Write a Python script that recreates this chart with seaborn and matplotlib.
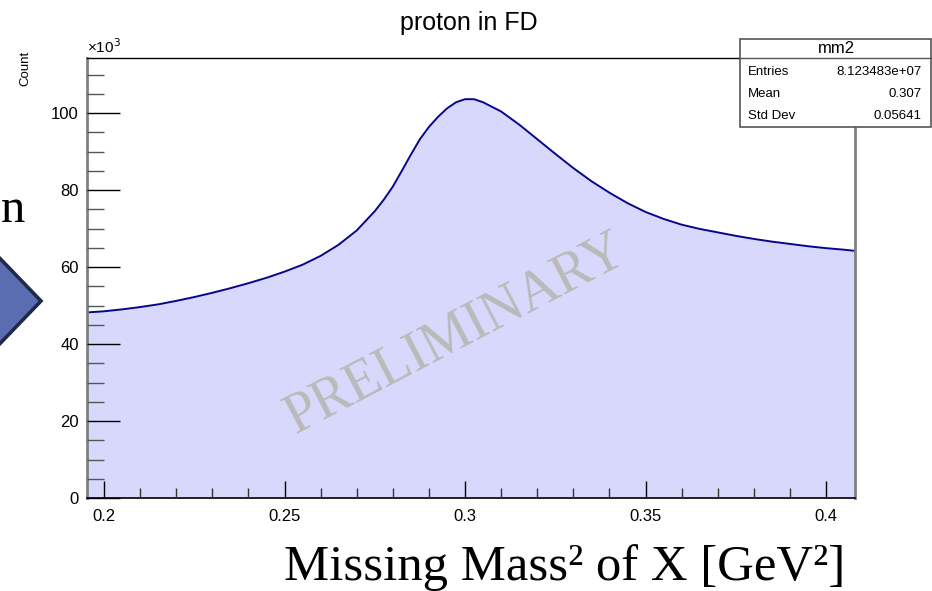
import matplotlib
matplotlib.use("Agg")
from matplotlib import pyplot as plt
from matplotlib.patches import Rectangle, Polygon
from matplotlib.lines import Line2D
from matplotlib.ticker import MultipleLocator
import pandas as pd
import seaborn as sns

# missing mass squared (GeV^2) and counts (thousands)
mm2 = [0.1953, 0.200, 0.205, 0.210, 0.215, 0.220, 0.225, 0.230, 0.235, 0.240,
       0.245, 0.250, 0.255, 0.260, 0.265, 0.270, 0.275, 0.2775, 0.280, 0.2825,
       0.285, 0.2875, 0.290, 0.2925, 0.295, 0.2975, 0.300, 0.3025, 0.305, 0.3075,
       0.310, 0.315, 0.320, 0.325, 0.330, 0.335, 0.340, 0.345, 0.350, 0.355,
       0.360, 0.365, 0.370, 0.375, 0.380, 0.385, 0.390, 0.395, 0.400, 0.405, 0.408]
counts = [48.2, 48.5, 49.0, 49.6, 50.3, 51.2, 52.2, 53.3, 54.5, 55.8,
          57.2, 58.8, 60.6, 62.9, 65.8, 69.5, 74.5, 77.5, 80.9, 85.0,
          89.2, 93.2, 96.4, 99.0, 101.2, 102.8, 103.6, 103.6, 102.8, 101.6,
          100.4, 97.0, 93.2, 89.4, 85.7, 82.3, 79.3, 76.6, 74.3, 72.5,
          71.0, 69.9, 69.0, 68.1, 67.3, 66.6, 66.0, 65.4, 64.9, 64.5, 64.2]

x_ticks = [0.2, 0.25, 0.3, 0.35, 0.4]
x_tick_labels = ["0.2", "0.25", "0.3", "0.35", "0.4"]
y_ticks = [0, 20, 40, 60, 80, 100]

stat_names = ["Entries", "Mean", "Std Dev"]
stat_values = ["8.123483e+07", "0.307", "0.05641"]

df = pd.DataFrame({"mm2": mm2, "count": counts})

W, H = 932, 591
sns.set_style("white")
plt.rcParams["font.family"] = ["Liberation Sans", "DejaVu Sans"]
plt.rcParams["text.color"] = "black"
plt.rcParams["xtick.labelcolor"] = "black"
plt.rcParams["ytick.labelcolor"] = "black"

fig = plt.figure(figsize=(W / 100, H / 100), dpi=100)


def fx(px):
    return px / W


def fy(py):
    return 1 - py / H


ax = fig.add_axes([fx(87), fy(498), fx(855) - fx(87), fy(58) - fy(498)])
ax.set_axisbelow(False)

ax.fill_between(df["mm2"], df["count"], 0, color="#d8d8fc", lw=0)
sns.lineplot(data=df, x="mm2", y="count", ax=ax, color="#06068c", lw=1.4)

ax.set_xlim(0.1953, 0.408)
ax.set_ylim(0, 114.3)
ax.set_xticks(x_ticks)
ax.set_xticklabels(x_tick_labels)
ax.set_yticks(y_ticks)
ax.xaxis.set_minor_locator(MultipleLocator(0.01))
ax.yaxis.set_minor_locator(MultipleLocator(5))
ax.tick_params(axis="both", which="major", direction="in", labelsize=12,
               color="black", width=1.0)
ax.tick_params(axis="x", which="major", length=12, pad=8)
ax.tick_params(axis="y", which="major", length=24, pad=6)
ax.tick_params(axis="x", which="minor", direction="in", length=7, width=1.0, color="#333333")
ax.tick_params(axis="y", which="minor", direction="in", length=12, width=1.0, color="#555555")
ax.tick_params(axis="x", which="both", bottom=True, top=False)
ax.tick_params(axis="y", which="both", left=True, right=False)
ax.set_xlabel("")
ax.set_ylabel("")

ax.spines["left"].set_color("#808080")
ax.spines["left"].set_linewidth(2)
ax.spines["bottom"].set_color("black")
ax.spines["bottom"].set_linewidth(1.2)
ax.spines["top"].set_color("black")
ax.spines["top"].set_linewidth(1.0)
ax.spines["right"].set_color("#808080")
ax.spines["right"].set_linewidth(2)

ax.text(0.0, 1.005, "×10$^{3}$", transform=ax.transAxes, fontsize=11,
        ha="left", va="bottom")

# watermark
ax.text(0.2975, 42.5, "PRELIMINARY", rotation=27.5, fontsize=40, color="#bababa",
        family=["Liberation Serif", "DejaVu Serif"], ha="center", va="center",
        rotation_mode="anchor")

fig.text(0.5025, fy(23), "proton in FD", fontsize=18, ha="center", va="center")
fig.text(fx(25), fy(68), "Count", fontsize=9.5, rotation=90, ha="center", va="center")

# stats box
fig.patches.append(Rectangle((fx(740), fy(127)), fx(931) - fx(740), fy(39) - fy(127),
                             transform=fig.transFigure, facecolor="white",
                             edgecolor="#555555", lw=1.2, zorder=5))
fig.lines.append(Line2D([fx(740), fx(931)], [fy(58), fy(58)], transform=fig.transFigure,
                        color="#555555", lw=1.0, zorder=6))
fig.text(fx(836), fy(48.5), "mm2", fontsize=12, ha="center", va="center", zorder=7)
for i, (name, val) in enumerate(zip(stat_names, stat_values)):
    yy = fy(72 + 22 * i)
    fig.text(fx(748), yy, name, fontsize=9.5, ha="left", va="center", zorder=7)
    fig.text(fx(922), yy, val, fontsize=9.5, ha="right", va="center", zorder=7)

# slide decorations
fig.patches.append(Polygon([(fx(-12), fy(246)), (fx(41), fy(301)), (fx(-12), fy(356))],
                           closed=True, transform=fig.transFigure, facecolor="#5a6db0",
                           edgecolor="#1f2a4a", lw=2.6, zorder=4))
fig.text(fx(1), fy(222), "n", fontsize=35, ha="left", va="baseline",
         family=["Liberation Serif", "DejaVu Serif"])
fig.text(fx(845), fy(580), "Missing Mass² of X [GeV²]", fontsize=36.5, ha="right",
         va="baseline", family=["Liberation Serif", "DejaVu Serif"])

plt.savefig("out.png", dpi=100)
